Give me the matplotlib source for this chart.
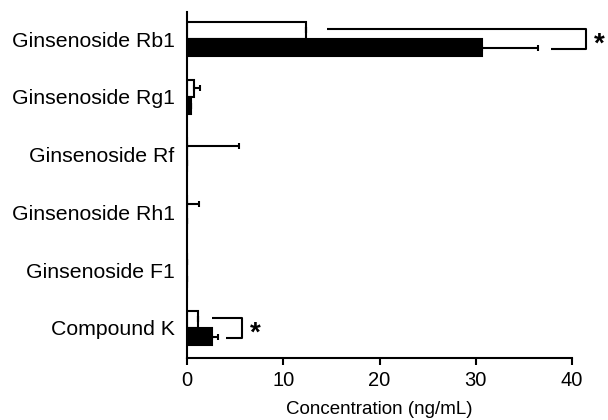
import numpy as np
import matplotlib.pyplot as plt

plt.rcParams['font.family'] = ['Liberation Sans', 'DejaVu Sans']

compounds = ['Ginsenoside Rb1', 'Ginsenoside Rg1', 'Ginsenoside Rf',
             'Ginsenoside Rh1', 'Ginsenoside F1', 'Compound K']
white_vals = [12.4, 0.7, 0.0, 0.0, 0.0, 1.15]
white_err = [0.0, 0.65, 5.4, 1.25, 0.0, 0.0]
black_vals = [30.6, 0.4, 0.0, 0.0, 0.0, 2.55]
black_err = [5.9, 0.0, 0.0, 0.0, 0.0, 0.65]
xticks = [0, 10, 20, 30, 40]

y = np.arange(len(compounds))
h = 0.3

fig = plt.figure(figsize=(6.08, 4.2), dpi=100)
ax = fig.add_axes([0.3076, 0.1476, 0.6332, 0.8238])

ax.barh(y - h / 2, white_vals, height=h, color='white', edgecolor='black', linewidth=1.5,
        xerr=[np.zeros(len(y)), white_err], error_kw=dict(elinewidth=1.5, capsize=2.5, capthick=1.5))
ax.barh(y + h / 2, black_vals, height=h, color='black', edgecolor='black', linewidth=1.5,
        xerr=[np.zeros(len(y)), black_err], error_kw=dict(elinewidth=1.5, capsize=2.5, capthick=1.5))

# significance brackets
def bracket(yi, x_top, x_bot, x_end):
    yt = yi - h / 2 - 0.03
    yb = yi + h / 2 + 0.02
    ax.plot([x_top, x_end, x_end, x_bot], [yt, yt, yb, yb], color='black', lw=1.5,
            clip_on=False, solid_capstyle='butt')
    ax.text(x_end + 0.8, (yt + yb) / 2 + 0.1, '*', fontsize=20, fontweight='bold',
            ha='left', va='center', clip_on=False)

bracket(0, 14.5, 37.8, 41.45)
bracket(5, 2.6, 4.1, 5.7)

ax.set_xlim(0, 40)
ax.set_ylim(5.52, -0.47)
ax.set_xticks(xticks)
ax.set_yticks(y)
ax.set_yticklabels(compounds)
ax.tick_params(axis='y', length=0, pad=9, labelsize=15.3)
ax.tick_params(axis='x', length=5, width=1.5, labelsize=14.5, pad=4)
ax.set_xlabel('Concentration (ng/mL)', fontsize=13.5, labelpad=8)
for s in ['top', 'right']:
    ax.spines[s].set_visible(False)
for s in ['left', 'bottom']:
    ax.spines[s].set_linewidth(1.5)

plt.savefig('out.png', dpi=100)
